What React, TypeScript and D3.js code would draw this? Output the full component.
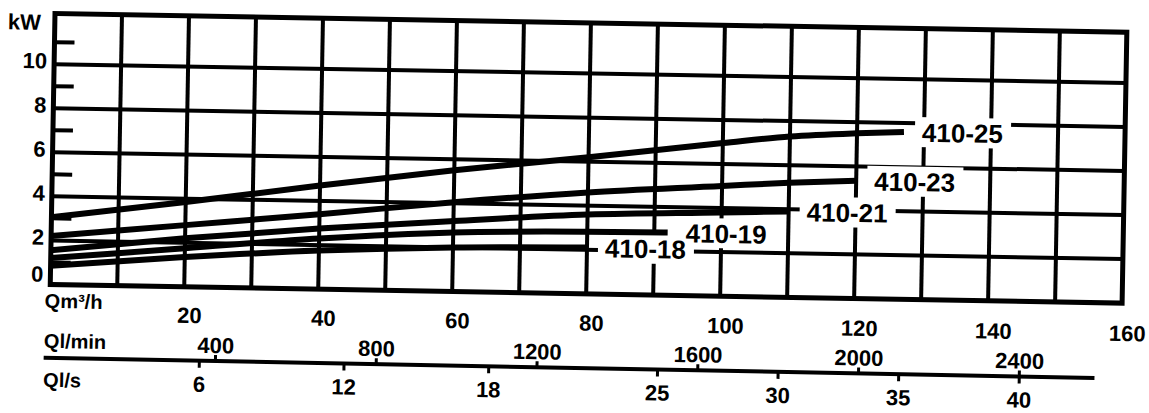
import React from 'react';
import * as d3 from 'd3';

// flow axis ticks (m3/h, l/min, l/s) and power axis ticks (kW)
const flowTicks = [20, 40, 60, 80, 100, 120, 140, 160];
const lpmTicks = [400, 800, 1200, 1600, 2000, 2400];
const lpsTicks = [6, 12, 18, 25, 30, 35, 40];
const kwTicks = [0, 2, 4, 6, 8, 10];
const kwHalf = [1, 3, 5, 7, 9, 11];

// power curves: Q in m3/h, P in kW
const pumpNames = ['410-18', '410-19', '410-21', '410-23', '410-25'];
const q18 = [0, 20, 40, 60, 80];
const p18 = [0.85, 1.35, 1.75, 2.0, 2.1];
const q19 = [0, 20, 40, 60, 80, 92];
const p19 = [1.2, 1.75, 2.3, 2.68, 2.82, 2.85];
const q21 = [0, 20, 40, 60, 80, 100, 110];
const p21 = [1.55, 2.2, 2.75, 3.2, 3.6, 3.8, 3.9];
const q23 = [0, 20, 40, 60, 80, 100, 110, 120];
const p23 = [2.2, 2.8, 3.4, 4.05, 4.6, 5.0, 5.2, 5.35];
const q25 = [0, 20, 40, 60, 80, 100, 110, 120, 127];
const p25 = [3.05, 3.85, 4.7, 5.5, 6.2, 6.95, 7.3, 7.5, 7.6];

const W = 1149;
const H = 413;
const FONT = '"Liberation Sans", Arial, Helvetica, sans-serif';

const x = d3.scaleLinear().domain([0, 160]).range([55, 1127]);
const y = d3.scaleLinear().domain([0, 12.3]).range([284.5, 13.5]);
// the other flow units share the same axis
const xLpm = d3.scaleLinear().domain([0, 160 / 0.06]).range(x.range());
const xLps = d3.scaleLinear().domain([0, 160 / 3.6]).range(x.range());

const line = d3.line<[number, number]>()
  .x(d => x(d[0]))
  .y(d => y(d[1]))
  .curve(d3.curveMonotoneX);

const curves = [q18, q19, q21, q23, q25].map((q, i) => {
  const p = [p18, p19, p21, p23, p25][i];
  return { name: pumpNames[i], pts: q.map((v, j) => [v, p[j]] as [number, number]) };
});

export default function App() {
  const [x0, x1] = x.range();
  const [yb, yt] = y.range();
  const labelGap = 18;
  const boxW = 96;
  const boxH = 30;

  return (
    <div>
      <style>{'body{margin:0}'}</style>
      <svg width={W} height={H} style={{ display: 'block', background: '#fff' }} fontFamily={FONT} fontWeight="bold">
        {/* the scan is turned slightly clockwise */}
        <g transform="rotate(1 55 13)">
          {d3.range(10, 160, 10).map(v => (
            <line key={'v' + v} x1={x(v)} x2={x(v)} y1={yt} y2={yb} stroke="#000" strokeWidth={4} />
          ))}
          {kwTicks.slice(1).map(v => (
            <line key={'h' + v} x1={x0} x2={x1} y1={y(v)} y2={y(v)} stroke="#000" strokeWidth={4} />
          ))}
          {kwHalf.map(v => (
            <line key={'m' + v} x1={x0} x2={x0 + 20} y1={y(v)} y2={y(v)} stroke="#000" strokeWidth={4} />
          ))}
          <rect x={x0} y={yt} width={x1 - x0} height={yb - yt} fill="none" stroke="#000" strokeWidth={5} />

          {curves.map(c => {
            const last = c.pts[c.pts.length - 1];
            return (
              <rect key={'b' + c.name} x={x(last[0]) + labelGap - 7} y={y(last[1]) - boxH / 2}
                width={boxW} height={boxH} fill="#fff" />
            );
          })}

          {curves.map(c => (
            <path key={c.name} d={line(c.pts) ?? ''} fill="none" stroke="#000" strokeWidth={6} />
          ))}

          {curves.map(c => {
            const last = c.pts[c.pts.length - 1];
            return (
              <text key={'t' + c.name} x={x(last[0]) + labelGap} y={y(last[1]) + 9.5} fontSize={26}>
                {c.name}
              </text>
            );
          })}

          {kwTicks.map(v => (
            <text key={'yl' + v} x={x0 - 7} y={Math.min(y(v) + 4.5, yb - 2.5)} fontSize={22} textAnchor="end">
              {v}
            </text>
          ))}
          <text x={8} y={30} fontSize={22}>kW</text>
        </g>

        <g transform="rotate(1.1 55 340)">
          <text x={44} y={308} fontSize={20}>Qm³/h</text>
          {flowTicks.map(v => (
            <text key={'q' + v} x={x(v)} y={320.5} fontSize={22} textAnchor="middle">{v}</text>
          ))}

          <text x={44} y={348} fontSize={20}>Ql/min</text>
          {lpmTicks.map(v => (
            <g key={'lpm' + v}>
              <line x1={xLpm(v)} x2={xLpm(v)} y1={358} y2={352} stroke="#000" strokeWidth={3} />
              <text x={xLpm(v)} y={350} fontSize={22} textAnchor="middle">{v}</text>
            </g>
          ))}

          <line x1={44} x2={1095} y1={358} y2={358} stroke="#000" strokeWidth={4} />

          <text x={44} y={387} fontSize={20}>Ql/s</text>
          {lpsTicks.map(v => (
            <g key={'lps' + v}>
              <line x1={xLps(v)} x2={xLps(v)} y1={358} y2={365} stroke="#000" strokeWidth={3} />
              <text x={xLps(v)} y={389} fontSize={22} textAnchor="middle">{v}</text>
            </g>
          ))}
        </g>
      </svg>
    </div>
  );
}
